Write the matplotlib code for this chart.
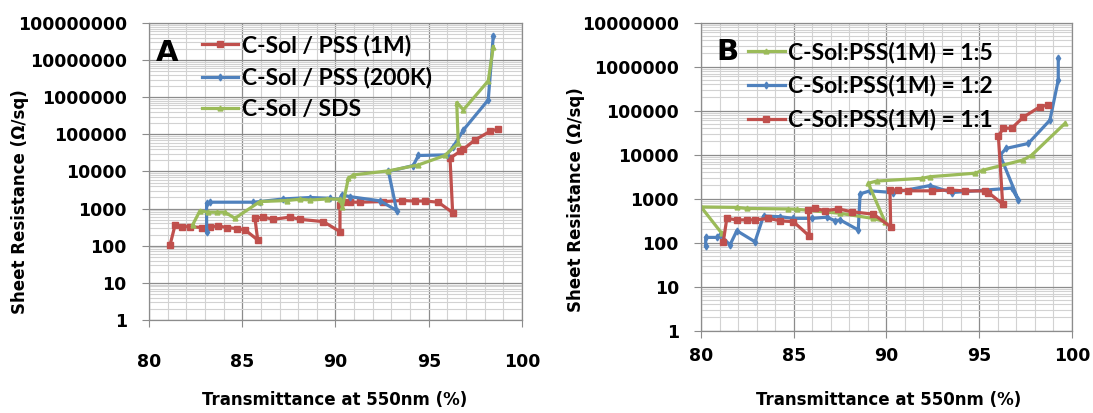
import numpy as np
import matplotlib.pyplot as plt
from matplotlib.ticker import MultipleLocator, LogLocator, FuncFormatter, NullFormatter

RED = '#C0504D'
BLUE = '#4F81BD'
GREEN = '#9BBB59'

# ---- panel A : C-Sol with different dispersants ----
a_pss1m_t = [81.13, 81.4, 81.75, 82.2, 82.83, 83.27, 83.72, 84.17, 84.7, 85.15, 85.83,
             85.68, 86.13, 86.67, 87.56, 88.1, 89.35, 90.24, 90.24, 90.42, 90.78, 91.31,
             92.56, 93.55, 94.26, 94.8, 95.51, 96.28, 96.14, 96.68, 96.86, 97.48, 98.28, 98.73]
a_pss1m_r = [105, 363, 326, 326, 310, 326, 340, 310, 290, 267, 143,
             550, 590, 515, 590, 515, 446, 240, 1260, 1550, 1490, 1490,
             1550, 1650, 1600, 1600, 1490, 780, 23000, 34700, 40000, 71000, 120000, 141000]

a_pss200k_t = [83.09, 83.09, 83.27, 85.59, 85.95, 87.2, 88.63, 89.7, 90.24, 90.33, 90.78,
               92.39, 93.28, 92.84, 94.17, 94.44, 95.96, 96.32, 96.86, 98.19, 98.46]
a_pss200k_r = [231, 1400, 1490, 1490, 1550, 1820, 1990, 1900, 1790, 2340, 2100,
               1620, 890, 10000, 14500, 27000, 28000, 47000, 132000, 850000, 46000000]

a_sds_t = [82.34, 82.73, 83.18, 83.63, 84.07, 84.61, 85.95, 87.38, 88.1, 88.63, 89.53,
           90.24, 90.37, 90.69, 90.96, 92.84, 94.44, 95.87, 96.58, 96.5, 96.86, 98.19, 98.46]
a_sds_r = [363, 870, 800, 800, 800, 550, 1550, 1650, 1790, 1700, 1820,
           1790, 1130, 6600, 8100, 10400, 15000, 27000, 58000, 720000, 460000, 2760000, 23000000]

# ---- panel B : C-Sol:PSS(1M) ratios ----
b_15_t = [81.12, 80.0, 81.93, 82.46, 84.71, 85.16, 87.5, 89.3, 89.92, 89.02, 89.47,
          91.9, 92.35, 94.78, 95.23, 97.38, 97.84, 99.63]
b_15_r = [163, 650, 635, 600, 585, 575, 465, 355, 300, 2240, 2520,
          2900, 3160, 3800, 4470, 7600, 9800, 51500]

b_12_t = [80.25, 80.25, 80.85, 81.02, 81.56, 81.93, 82.91, 83.37, 84.26, 84.98, 85.97,
          86.78, 87.23, 87.5, 88.48, 88.58, 89.12, 90.38, 92.35, 93.52, 96.76, 97.12,
          96.13, 96.46, 97.65, 98.82, 99.27, 99.27]
b_12_r = [84, 132, 132, 150, 89, 187, 105, 405, 390, 357, 357,
          380, 316, 330, 195, 1290, 1510, 1380, 1990, 1380, 1740, 930,
          9800, 13900, 18000, 61000, 500000, 1550000]

b_11_t = [81.2, 81.39, 81.93, 82.46, 82.91, 83.63, 84.26, 84.98, 85.84, 85.79, 86.15,
          86.69, 87.41, 88.13, 89.3, 90.23, 90.19, 90.64, 91.18, 92.44, 93.43, 94.24,
          95.32, 95.5, 96.27, 96.04, 96.31, 96.76, 97.38, 98.28, 98.73]
b_11_r = [105, 357, 330, 330, 330, 357, 316, 300, 142, 550, 600,
          535, 585, 505, 445, 230, 1580, 1580, 1510, 1510, 1580, 1500,
          1500, 1380, 760, 26700, 40000, 40000, 71000, 123000, 135000]

TICKFONT = dict(family='DejaVu Sans', weight='bold', size=12.5)
TITLEFONT = dict(family='DejaVu Sans', weight='bold', size=12)


def style_axes(ax, ymax, xpad):
    ax.set_xlim(80, 100)
    ax.set_yscale('log')
    ax.set_ylim(1, ymax)
    ax.xaxis.set_major_locator(MultipleLocator(5))
    ax.xaxis.set_minor_locator(MultipleLocator(1))
    ax.yaxis.set_major_locator(LogLocator(base=10, numticks=20))
    ax.yaxis.set_minor_locator(LogLocator(base=10, subs=np.arange(2, 10), numticks=20))
    ax.yaxis.set_major_formatter(FuncFormatter(lambda v, p: '%d' % round(v)))
    ax.yaxis.set_minor_formatter(NullFormatter())
    ax.grid(which='major', color='#8c8c8c', lw=0.9)
    ax.grid(which='minor', color='#d2d2d2', lw=0.8)
    ax.set_axisbelow(True)
    for s in ax.spines.values():
        s.set_color('#8c8c8c')
        s.set_linewidth(0.9)
    ax.tick_params(which='major', length=5, color='#8c8c8c', direction='out')
    ax.tick_params(which='minor', length=0)
    ax.tick_params(axis='y', pad=11)
    ax.tick_params(axis='x', pad=xpad)
    for lab in ax.get_xticklabels() + ax.get_yticklabels():
        lab.set_fontproperties(TICKFONT)
    ax.set_xlabel('Transmittance at 550nm (%)', va='center', **TITLEFONT)
    ax.set_ylabel('Sheet Resistance (\u03a9/sq)', va='center', **TITLEFONT)


fig = plt.figure(figsize=(10.93, 4.13), dpi=100)
axA = fig.add_axes([0.1363, 0.2252, 0.3413, 0.7191])
axB = fig.add_axes([0.6414, 0.1993, 0.3392, 0.7457])

lw = 2.3
axA.plot(a_pss1m_t, a_pss1m_r, color=RED, lw=lw, marker='s', ms=5, label='C-Sol / PSS (1M)')
axA.plot(a_pss200k_t, a_pss200k_r, color=BLUE, lw=lw, marker='d', ms=3.5, label='C-Sol / PSS (200K)')
axA.plot(a_sds_t, a_sds_r, color=GREEN, lw=lw, marker='^', ms=3.5, label='C-Sol / SDS')

axB.plot(b_11_t, b_11_r, color=RED, lw=lw, marker='s', ms=5, label='C-Sol:PSS(1M) = 1:1', zorder=3)
axB.plot(b_12_t, b_12_r, color=BLUE, lw=lw, marker='d', ms=3.5, label='C-Sol:PSS(1M) = 1:2', zorder=2)
axB.plot(b_15_t, b_15_r, color=GREEN, lw=lw, marker='^', ms=3.5, label='C-Sol:PSS(1M) = 1:5', zorder=2)

style_axes(axA, 1e8, 19)
style_axes(axB, 1e7, 7)

axA.xaxis.set_label_coords(0.499, -0.269)
axA.yaxis.set_label_coords(-0.346, 0.397)
axB.xaxis.set_label_coords(0.507, -0.225)
axB.yaxis.set_label_coords(-0.337, 0.424)

legfont = dict(family='Lato', weight='bold', size=16.5)
hA, lA = axA.get_legend_handles_labels()
axA.legend(hA, lA, loc='upper left', bbox_to_anchor=(0.141, 0.961), frameon=False,
           prop=legfont, handlelength=1.6, handletextpad=0.15, labelspacing=0.46,
           borderpad=0, borderaxespad=0, numpoints=1)
hB, lB = axB.get_legend_handles_labels()
order = [2, 1, 0]
axB.legend([hB[i] for i in order], [lB[i] for i in order], loc='upper left',
           bbox_to_anchor=(0.127, 0.94), frameon=False, prop=legfont,
           handlelength=1.6, handletextpad=0.15, labelspacing=0.53,
           borderpad=0, borderaxespad=0, numpoints=1)

axA.text(0.048, 0.899, 'A', transform=axA.transAxes, ha='center', va='center',
         family='DejaVu Sans', weight='bold', size=21)
axB.text(0.07, 0.905, 'B', transform=axB.transAxes, ha='center', va='center',
         family='DejaVu Sans', weight='bold', size=21)

fig.savefig('out.png', dpi=100)
